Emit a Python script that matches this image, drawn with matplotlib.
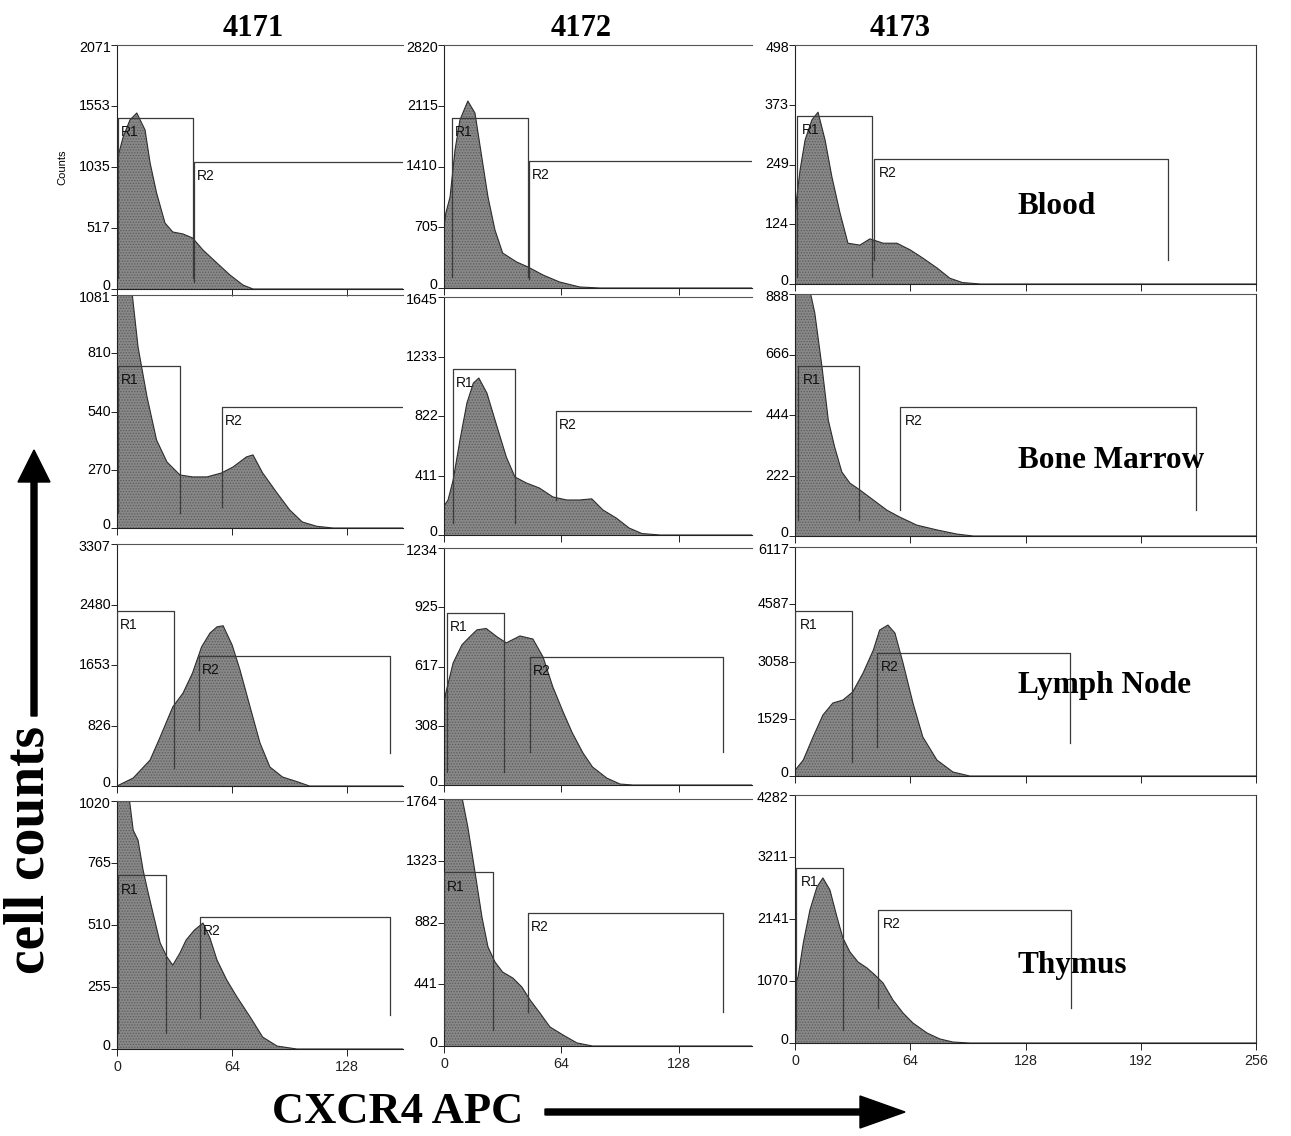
import matplotlib
matplotlib.use("Agg")
import matplotlib.pyplot as plt
from matplotlib.patches import FancyArrow

# ---------------- data ----------------
samples = ["4171", "4172", "4173"]
tissues = ["Blood", "Bone Marrow", "Lymph Node", "Thymus"]
x_max = [159, 168, 256]
x_ticks = [[0, 64, 128], [0, 64, 128], [0, 64, 128, 192, 256]]

y_ticks = [
    [[0, 517, 1035, 1553, 2071], [0, 705, 1410, 2115, 2820], [0, 124, 249, 373, 498]],
    [[0, 270, 540, 810, 1081], [0, 411, 822, 1233, 1645], [0, 222, 444, 666, 888]],
    [[0, 826, 1653, 2480, 3307], [0, 308, 617, 925, 1234], [0, 1529, 3058, 4587, 6117]],
    [[0, 255, 510, 765, 1020], [0, 441, 882, 1323, 1764], [0, 1070, 2141, 3211, 4282]],
]

# histogram outlines (channel, counts)
blood_4171_x = [0, 0.5, 3.4, 7.2, 11, 15.6, 18.4, 22, 26.7, 31, 36.7, 42, 47.8, 55.6, 62.8, 70, 75.6, 160]
blood_4171_y = [800, 1120, 1290, 1435, 1494, 1350, 1070, 815, 560, 484, 467, 433, 331, 220, 119, 34, 0, 0]
blood_4172_x = [0, 1, 3.3, 6, 8.7, 13, 16.9, 20.6, 24, 27.8, 32, 39.6, 45.8, 54, 63, 74, 85, 170]
blood_4172_y = [700, 870, 1056, 1600, 1950, 2170, 2030, 1520, 1056, 673, 406, 302, 244, 151, 70, 12, 0, 0]
blood_4173_x = [0, 1, 2.8, 5.6, 9.4, 12.8, 16.7, 20.5, 25, 29.4, 36, 41.6, 49, 56.6, 64, 71, 79, 86, 93, 103, 256]
blood_4173_y = [140, 181, 237, 300, 342, 358, 300, 223, 148, 85, 81, 94, 85, 85, 71, 54, 33, 12, 3, 0, 0]

bm_4171_x = [0, 4, 8, 11.7, 16.7, 22, 27.8, 35, 42, 50, 58, 64.5, 72, 75.6, 81, 89, 96, 103, 111, 120, 160]
bm_4171_y = [1300, 1250, 1120, 840, 608, 408, 306, 246, 237, 237, 255, 283, 330, 339, 255, 162, 84, 28, 8, 0, 0]
bm_4172_x = [0, 2.2, 5, 8.7, 12.5, 16, 19, 23.4, 29, 34, 38.7, 45, 52, 59.4, 67, 74, 80.6, 86.7, 94, 101, 108, 118, 170]
bm_4172_y = [200, 242, 380, 656, 912, 1050, 1085, 981, 746, 539, 401, 359, 325, 263, 242, 242, 250, 173, 117, 48, 10, 0, 0]
bm_4173_x = [0, 4, 8.3, 11, 15, 18.5, 22, 26, 30.5, 36, 43.5, 51, 58, 67.6, 79, 90, 99, 256]
bm_4173_y = [1100, 1000, 900, 818, 620, 425, 327, 235, 194, 169, 132, 95, 70, 40, 22, 7, 0, 0]

ln_4171_x = [0, 9, 18.4, 24, 31, 36.7, 42, 47, 51.7, 55.6, 59, 64, 68.4, 74, 79.5, 85, 92, 100, 107, 160]
ln_4171_y = [0, 109, 355, 670, 1080, 1270, 1545, 1900, 2090, 2175, 2190, 1928, 1585, 1080, 588, 260, 123, 60, 0, 0]
ln_4172_x = [0, 1, 5, 9.8, 14, 18, 23, 29, 34, 41.4, 48.5, 54, 59.4, 65, 70, 75.8, 81, 88.8, 96, 103, 170]
ln_4172_y = [420, 480, 636, 730, 771, 808, 815, 771, 740, 776, 760, 667, 510, 380, 271, 167, 94, 36, 5, 0, 0]
ln_4173_x = [0, 4.6, 10, 15.5, 21, 26.6, 32, 37.8, 43.5, 47, 51.6, 55.5, 60, 65.5, 71, 78.8, 87.7, 97, 256]
ln_4173_y = [150, 427, 1041, 1628, 1949, 2029, 2243, 2750, 3364, 3898, 4032, 3818, 3017, 1949, 1041, 427, 107, 0, 0]

thy_4171_x = [0, 4, 7, 9, 11.7, 14.5, 17, 20, 24, 27.8, 31, 35, 38.4, 43, 47.8, 51.7, 55.6, 61, 66.7, 74, 81, 89, 100, 160]
thy_4171_y = [1150, 1080, 1020, 900, 859, 736, 653, 559, 436, 378, 345, 395, 448, 489, 518, 456, 366, 284, 214, 132, 49, 12, 0, 0]
thy_4172_x = [0, 5, 10, 13, 17, 20.7, 24, 27.8, 32, 37.6, 42.5, 47, 52.3, 57.8, 65, 72.5, 81, 170]
thy_4172_y = [2100, 1950, 1764, 1564, 1235, 921, 707, 600, 528, 485, 421, 328, 236, 136, 78, 22, 0, 0]
thy_4173_x = [0, 0.5, 1.7, 4.6, 8.3, 12.2, 15.5, 19.4, 23.3, 26.6, 30.5, 35, 40, 44.4, 48.9, 54.4, 60, 65.5, 73.3, 80.5, 87.7, 97, 256]
thy_4173_y = [900, 1036, 1140, 1727, 2297, 2694, 2850, 2642, 2176, 1813, 1572, 1399, 1295, 1174, 1036, 743, 518, 345, 173, 69, 17, 0, 0]

hist_x = [[blood_4171_x, blood_4172_x, blood_4173_x],
          [bm_4171_x, bm_4172_x, bm_4173_x],
          [ln_4171_x, ln_4172_x, ln_4173_x],
          [thy_4171_x, thy_4172_x, thy_4173_x]]
hist_y = [[blood_4171_y, blood_4172_y, blood_4173_y],
          [bm_4171_y, bm_4172_y, bm_4173_y],
          [ln_4171_y, ln_4172_y, ln_4173_y],
          [thy_4171_y, thy_4172_y, thy_4173_y]]

# gates: (x_left, x_right, y_top, y_bottom_left, y_bottom_right)
gate_r1 = [
    [(0.5, 42, 1452, 93, 93), (4.2, 45.8, 1972, 128, 128), (1.1, 42.7, 350, 15, 15)],
    [(0.6, 35, 752, 70, 70), (4.9, 38.7, 1147, 83, 83), (1.8, 35.5, 624, 59, 59)],
    [(0, 31.7, 2392, 246, 246), (1.6, 32.7, 896, 68, 68), (0, 31.6, 4406, 374, 374)],
    [(0.5, 27, 715, 66, 66), (0, 26.9, 1242, 114, 114), (0.5, 26.6, 3022, 225, 225)],
]
gate_r2 = [
    [(43, 200, 1078, 60, 60), (46.3, 200, 1473, 100, 100), (43.9, 207, 260, 50, 50)],
    [(58.4, 200, 561, 98, 98), (61, 200, 857, 242, 242), (58.3, 222.7, 473, 95, 95)],
    [(45.6, 151.8, 1777, 766, 451), (46.9, 152, 667, 172, 172), (45.4, 152.7, 3284, 774, 881)],
    [(46, 152, 543, 127, 140), (45.8, 152, 950, 243, 243), (46, 153, 2297, 604, 604)],
]

# ---------------- layout (pixels) ----------------
W, H = 1291, 1136
col_px = [(117, 403), (444, 752), (795, 1256)]
row_px = [
    [(45, 289), (45, 288), (45, 284)],
    [(295, 528), (297, 535), (294, 536)],
    [(544, 786), (548, 785), (547, 776)],
    [(801, 1049), (799, 1046), (795, 1043)],
]
label_y = [206, 461, 686, 965]

fig = plt.figure(figsize=(W / 100, H / 100), dpi=100)
tick_font = dict(family="Liberation Sans", size=10.3)
serif_b = dict(family="Liberation Serif", weight="bold")

fill_c = "#888888"
hatch_c = "#5c5c5c"
edge_c = "#2e2e2e"
gate_c = "#3a3a3a"
plt.rcParams["hatch.linewidth"] = 0.6

for r in range(4):
    for c in range(3):
        l, rr = col_px[c]
        t, b = row_px[r][c]
        ax = fig.add_axes([l / W, 1 - b / H, (rr - l) / W, (b - t) / H])
        ticks = y_ticks[r][c]
        ymax = ticks[-1]
        ax.set_xlim(0, x_max[c])
        ax.set_ylim(0, ymax)
        xs, ys = hist_x[r][c], hist_y[r][c]
        ax.fill_between(xs, ys, 0, facecolor=fill_c, edgecolor=hatch_c, hatch="......",
                        linewidth=0, zorder=1)
        ax.plot(xs, ys, color=edge_c, lw=0.8, zorder=2)
        # gates
        for name, g in (("R1", gate_r1[r][c]), ("R2", gate_r2[r][c])):
            xl, xr, yt, ybl, ybr = g
            ax.plot([xl, xl, xr, xr], [ybl, yt, yt, ybr], color=gate_c, lw=0.9, zorder=3)
            ax.text(xl + 0.01 * x_max[c], yt - 0.03 * ymax, name, ha="left", va="top",
                    fontsize=10, family="Liberation Sans", color="#111111", zorder=4)
        # spines
        for s in ("left", "bottom", "top"):
            ax.spines[s].set_linewidth(0.8)
            ax.spines[s].set_color("#222222")
        ax.spines["top"].set_linestyle((0, (4, 1)))
        ax.spines["top"].set_color("#555555")
        if c == 2:
            ax.spines["right"].set_linewidth(0.8)
            ax.spines["right"].set_color("#333333")
        else:
            ax.spines["right"].set_visible(False)
        # y ticks with manually placed labels (first/last nudged apart)
        ax.set_yticks(ticks)
        ax.set_yticklabels([])
        for i, v in enumerate(ticks):
            dy = 2.5 if i == 0 else (-2.5 if i == len(ticks) - 1 else 0)
            ax.annotate(str(v), xy=(0, v), xycoords=("axes fraction", "data"),
                        xytext=(-4.5, dy), textcoords="offset points",
                        ha="right", va="center", annotation_clip=False, **tick_font)
        ax.set_xticks(x_ticks[c])
        if r == 3:
            ax.set_xticklabels([str(v) for v in x_ticks[c]], **tick_font)
        else:
            ax.set_xticklabels([])
        ax.tick_params(axis="y", direction="out", length=4, width=0.7, colors="#222222")
        ax.tick_params(axis="x", direction="out", length=5, width=0.7, pad=3, colors="#222222")
        ax.set_facecolor("none")
        if r == 0 and c == 0:
            ax.set_ylabel("Counts", fontsize=8, family="Liberation Sans", labelpad=28)

# overlay for figure-level annotations in pixel coordinates
ov = fig.add_axes([0, 0, 1, 1])
ov.set_xlim(0, W)
ov.set_ylim(H, 0)
ov.axis("off")
ov.set_zorder(10)
ov.patch.set_alpha(0)

for c, s in enumerate(samples):
    cx = [253, 581, 900][c]
    ov.text(cx, 28, s, ha="center", va="center", fontsize=22, **serif_b)

for r, tname in enumerate(tissues):
    ov.text(1018, label_y[r], tname, ha="left", va="center", fontsize=22.5, **serif_b)

ov.text(30, 850, "cell counts", rotation=90, ha="center", va="center", fontsize=40, **serif_b)
ov.add_patch(FancyArrow(34, 716, 0, -266, width=6, head_width=32, head_length=32,
                        length_includes_head=True, color="black"))

ov.text(398, 1112, "CXCR4 APC", ha="center", va="center", fontsize=32, **serif_b)
ov.add_patch(FancyArrow(545, 1112, 360, 0, width=6, head_width=32, head_length=45,
                        length_includes_head=True, color="black"))

fig.savefig("out.png", dpi=100)
